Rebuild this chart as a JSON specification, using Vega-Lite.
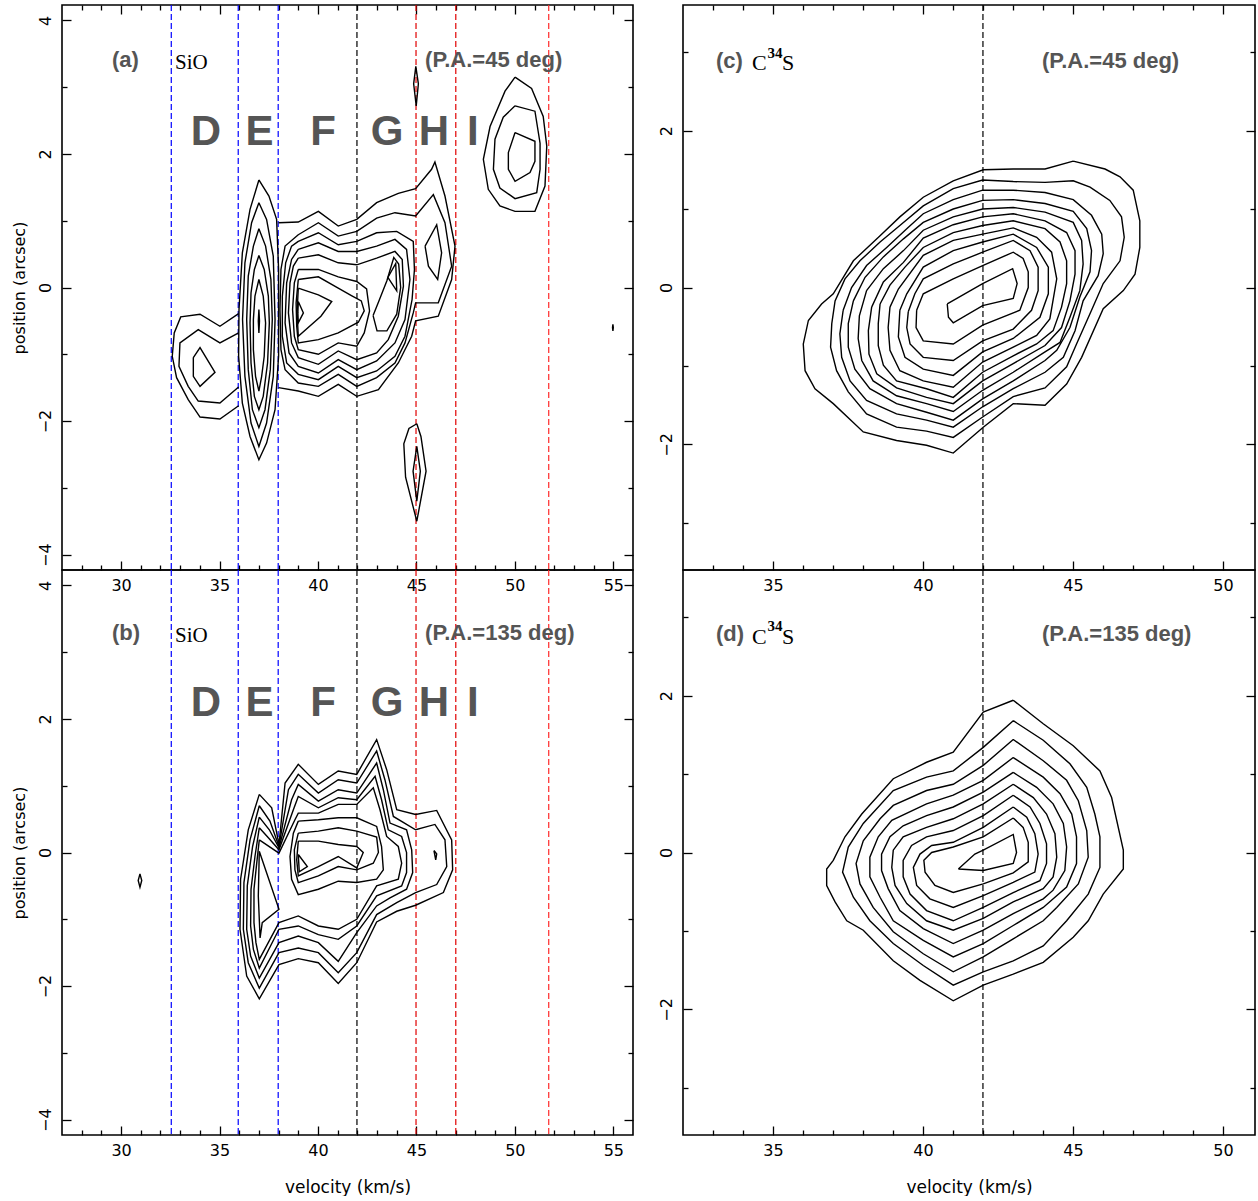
{
"$schema":"https://vega.github.io/schema/vega-lite/v6.json",
"background":"white",
"padding":{"left":10,"top":3,"right":0,"bottom":0},
"config":{
 "view":{"stroke":"#000","strokeWidth":1.6},
 "axis":{"domain":false,"grid":false,"tickColor":"#000","tickWidth":1.3,"labelColor":"#000","labelFont":"DejaVu Sans","labelFontSize":16,"titleFont":"DejaVu Sans","titleFontSize":16,"titleFontWeight":"normal","titleColor":"#000","labelOverlap":false,"labelFlush":false}
},
"datasets":{
 "rAB":[{"v":32.55,"k":"b"},{"v":35.95,"k":"b"},{"v":37.98,"k":"b"},{"v":41.98,"k":"k"},{"v":44.98,"k":"r"},{"v":47.0,"k":"r"},{"v":51.72,"k":"r2"}],
 "rCD":[{"v":42.0,"k":"k"}],
 "tA":[{"g":"lab","t":"(a)","v":29.54,"p":3.30},{"g":"lab","t":"(P.A.=45 deg)","v":45.44,"p":3.30},{"g":"ser","t":"SiO","v":32.74,"p":3.27},
  {"g":"big","t":"D","v":34.31,"p":2.14},{"g":"big","t":"E","v":37.03,"p":2.14},{"g":"big","t":"F","v":40.26,"p":2.14},{"g":"big","t":"G","v":43.51,"p":2.14},{"g":"big","t":"H","v":45.89,"p":2.14},{"g":"big","t":"I","v":47.87,"p":2.14}],
 "tB":[{"g":"lab","t":"(b)","v":29.54,"p":3.18},{"g":"lab","t":"(P.A.=135 deg)","v":45.44,"p":3.18},{"g":"ser","t":"SiO","v":32.74,"p":3.15},
  {"g":"big","t":"D","v":34.31,"p":2.05},{"g":"big","t":"E","v":37.03,"p":2.05},{"g":"big","t":"F","v":40.26,"p":2.05},{"g":"big","t":"G","v":43.51,"p":2.05},{"g":"big","t":"H","v":45.89,"p":2.05},{"g":"big","t":"I","v":47.87,"p":2.05}],
 "tC":[{"g":"lab","t":"(c)","v":33.10,"p":2.80},{"g":"lab","t":"(P.A.=45 deg)","v":43.97,"p":2.80},{"g":"ser","t":"C","v":34.30,"p":2.77},{"g":"ser","t":"S","v":35.30,"p":2.77},{"g":"sup","t":"34","v":34.82,"p":2.93}],
 "tD":[{"g":"lab","t":"(d)","v":33.10,"p":2.69},{"g":"lab","t":"(P.A.=135 deg)","v":43.97,"p":2.69},{"g":"ser","t":"C","v":34.30,"p":2.66},{"g":"ser","t":"S","v":35.30,"p":2.66},{"g":"sup","t":"34","v":34.82,"p":2.82}],
 "cA":[
  {"c":"d1","v":35.97,"p":-0.39},{"c":"d1","v":35.02,"p":-0.58},{"c":"d1","v":34.01,"p":-0.40},{"c":"d1","v":33.03,"p":-0.44},{"c":"d1","v":32.70,"p":-0.68},{"c":"d1","v":32.60,"p":-1.03},{"c":"d1","v":32.82,"p":-1.35},{"c":"d1","v":33.41,"p":-1.68},{"c":"d1","v":34.01,"p":-1.94},{"c":"d1","v":35.02,"p":-1.97},{"c":"d1","v":35.97,"p":-1.77},
  {"c":"d2","v":35.97,"p":-0.68},{"c":"d2","v":35.02,"p":-0.83},{"c":"d2","v":33.92,"p":-0.63},{"c":"d2","v":32.99,"p":-0.83},{"c":"d2","v":32.94,"p":-1.18},{"c":"d2","v":33.41,"p":-1.48},{"c":"d2","v":33.92,"p":-1.70},{"c":"d2","v":35.02,"p":-1.73},{"c":"d2","v":35.97,"p":-1.49},
  {"c":"d3","v":33.67,"p":-1.05},{"c":"d3","v":34.01,"p":-0.90},{"c":"d3","v":34.77,"p":-1.27},{"c":"d3","v":34.01,"p":-1.48},{"c":"d3","v":33.67,"p":-1.33},{"c":"d3","v":33.67,"p":-1.05},
  {"c":"e1","v":37.00,"p":1.61},{"c":"e1","v":37.51,"p":1.37},{"c":"e1","v":37.90,"p":1.02},{"c":"e1","v":38.00,"p":0.27},{"c":"e1","v":38.00,"p":-1.03},{"c":"e1","v":37.82,"p":-1.83},{"c":"e1","v":37.39,"p":-2.33},{"c":"e1","v":37.00,"p":-2.58},{"c":"e1","v":36.55,"p":-2.23},{"c":"e1","v":36.16,"p":-1.73},{"c":"e1","v":35.97,"p":-1.03},{"c":"e1","v":35.99,"p":-0.33},{"c":"e1","v":36.16,"p":0.52},{"c":"e1","v":36.55,"p":1.17},{"c":"e1","v":37.00,"p":1.61},
  {"c":"e2","v":37.00,"p":1.27},{"c":"e2","v":37.39,"p":1.02},{"c":"e2","v":37.73,"p":0.47},{"c":"e2","v":37.82,"p":-0.48},{"c":"e2","v":37.73,"p":-1.33},{"c":"e2","v":37.39,"p":-2.03},{"c":"e2","v":37.00,"p":-2.38},{"c":"e2","v":36.60,"p":-2.03},{"c":"e2","v":36.29,"p":-1.33},{"c":"e2","v":36.17,"p":-0.48},{"c":"e2","v":36.29,"p":0.37},{"c":"e2","v":36.63,"p":0.97},{"c":"e2","v":37.00,"p":1.27},
  {"c":"e3","v":37.00,"p":0.88},{"c":"e3","v":37.34,"p":0.62},{"c":"e3","v":37.61,"p":0.12},{"c":"e3","v":37.68,"p":-0.48},{"c":"e3","v":37.58,"p":-1.23},{"c":"e3","v":37.31,"p":-1.83},{"c":"e3","v":37.00,"p":-2.10},{"c":"e3","v":36.67,"p":-1.83},{"c":"e3","v":36.46,"p":-1.23},{"c":"e3","v":36.38,"p":-0.48},{"c":"e3","v":36.46,"p":0.17},{"c":"e3","v":36.72,"p":0.62},{"c":"e3","v":37.00,"p":0.88},
  {"c":"e4","v":37.00,"p":0.48},{"c":"e4","v":37.27,"p":0.27},{"c":"e4","v":37.48,"p":-0.13},{"c":"e4","v":37.53,"p":-0.53},{"c":"e4","v":37.44,"p":-1.13},{"c":"e4","v":37.22,"p":-1.63},{"c":"e4","v":37.00,"p":-1.83},{"c":"e4","v":36.77,"p":-1.63},{"c":"e4","v":36.60,"p":-1.13},{"c":"e4","v":36.55,"p":-0.53},{"c":"e4","v":36.60,"p":-0.08},{"c":"e4","v":36.77,"p":0.27},{"c":"e4","v":37.00,"p":0.48},
  {"c":"e5","v":37.00,"p":0.12},{"c":"e5","v":37.22,"p":-0.13},{"c":"e5","v":37.34,"p":-0.53},{"c":"e5","v":37.27,"p":-1.03},{"c":"e5","v":37.14,"p":-1.33},{"c":"e5","v":37.00,"p":-1.55},{"c":"e5","v":36.83,"p":-1.33},{"c":"e5","v":36.72,"p":-0.93},{"c":"e5","v":36.72,"p":-0.48},{"c":"e5","v":36.80,"p":-0.13},{"c":"e5","v":37.00,"p":0.12},
  {"c":"e6","v":37.00,"p":-0.33},{"c":"e6","v":37.03,"p":-0.50},{"c":"e6","v":37.00,"p":-0.68},{"c":"e6","v":36.97,"p":-0.50},{"c":"e6","v":37.00,"p":-0.33},
  {"c":"f1","v":38.00,"p":0.97},{"c":"f1","v":39.00,"p":0.98},{"c":"f1","v":40.02,"p":1.14},{"c":"f1","v":41.03,"p":0.92},{"c":"f1","v":41.97,"p":1.02},{"c":"f1","v":42.98,"p":1.27},{"c":"f1","v":44.08,"p":1.41},{"c":"f1","v":44.96,"p":1.48},{"c":"f1","v":45.77,"p":1.77},{"c":"f1","v":45.94,"p":1.88},{"c":"f1","v":46.45,"p":1.37},{"c":"f1","v":46.96,"p":0.62},{"c":"f1","v":46.79,"p":0.12},{"c":"f1","v":46.11,"p":-0.43},{"c":"f1","v":44.96,"p":-0.50},{"c":"f1","v":44.76,"p":-0.73},{"c":"f1","v":44.08,"p":-1.13},{"c":"f1","v":43.07,"p":-1.53},{"c":"f1","v":41.97,"p":-1.63},{"c":"f1","v":41.03,"p":-1.45},{"c":"f1","v":40.02,"p":-1.63},{"c":"f1","v":39.00,"p":-1.55},{"c":"f1","v":38.00,"p":-1.50},
  {"c":"f2","v":39.00,"p":0.79},{"c":"f2","v":40.02,"p":0.97},{"c":"f2","v":41.03,"p":0.77},{"c":"f2","v":41.97,"p":0.84},{"c":"f2","v":42.98,"p":1.04},{"c":"f2","v":43.91,"p":1.12},{"c":"f2","v":44.96,"p":1.07},{"c":"f2","v":45.86,"p":1.39},{"c":"f2","v":46.45,"p":0.97},{"c":"f2","v":46.79,"p":0.32},{"c":"f2","v":46.11,"p":-0.23},{"c":"f2","v":44.96,"p":-0.23},{"c":"f2","v":44.84,"p":-0.38},{"c":"f2","v":44.42,"p":-0.83},{"c":"f2","v":43.91,"p":-1.13},{"c":"f2","v":42.98,"p":-1.35},{"c":"f2","v":41.97,"p":-1.48},{"c":"f2","v":41.03,"p":-1.30},{"c":"f2","v":40.02,"p":-1.48},{"c":"f2","v":39.00,"p":-1.43},{"c":"f2","v":38.33,"p":-1.23},{"c":"f2","v":38.12,"p":-0.93},{"c":"f2","v":38.07,"p":-0.33},{"c":"f2","v":38.12,"p":0.27},{"c":"f2","v":38.33,"p":0.62},{"c":"f2","v":39.00,"p":0.79},
  {"c":"f3","v":39.00,"p":0.69},{"c":"f3","v":40.02,"p":0.82},{"c":"f3","v":41.03,"p":0.64},{"c":"f3","v":41.97,"p":0.69},{"c":"f3","v":42.98,"p":0.82},{"c":"f3","v":44.00,"p":0.84},{"c":"f3","v":44.84,"p":0.69},{"c":"f3","v":44.90,"p":0.27},{"c":"f3","v":44.78,"p":-0.18},{"c":"f3","v":44.42,"p":-0.73},{"c":"f3","v":43.91,"p":-1.03},{"c":"f3","v":42.98,"p":-1.25},{"c":"f3","v":41.97,"p":-1.35},{"c":"f3","v":41.03,"p":-1.18},{"c":"f3","v":40.02,"p":-1.38},{"c":"f3","v":39.00,"p":-1.30},{"c":"f3","v":38.41,"p":-1.13},{"c":"f3","v":38.19,"p":-0.73},{"c":"f3","v":38.19,"p":-0.13},{"c":"f3","v":38.36,"p":0.37},{"c":"f3","v":38.66,"p":0.62},{"c":"f3","v":39.00,"p":0.69},
  {"c":"f4","v":39.00,"p":0.57},{"c":"f4","v":40.02,"p":0.67},{"c":"f4","v":41.03,"p":0.54},{"c":"f4","v":41.97,"p":0.54},{"c":"f4","v":42.98,"p":0.62},{"c":"f4","v":43.91,"p":0.72},{"c":"f4","v":44.50,"p":0.57},{"c":"f4","v":44.67,"p":0.12},{"c":"f4","v":44.42,"p":-0.48},{"c":"f4","v":43.91,"p":-0.83},{"c":"f4","v":42.98,"p":-1.10},{"c":"f4","v":41.97,"p":-1.23},{"c":"f4","v":41.03,"p":-1.08},{"c":"f4","v":40.02,"p":-1.28},{"c":"f4","v":39.00,"p":-1.18},{"c":"f4","v":38.53,"p":-0.98},{"c":"f4","v":38.33,"p":-0.53},{"c":"f4","v":38.41,"p":0.07},{"c":"f4","v":38.66,"p":0.42},{"c":"f4","v":39.00,"p":0.57},
  {"c":"f5","v":39.00,"p":0.44},{"c":"f5","v":40.02,"p":0.49},{"c":"f5","v":41.03,"p":0.37},{"c":"f5","v":41.97,"p":0.34},{"c":"f5","v":42.98,"p":0.44},{"c":"f5","v":43.91,"p":0.54},{"c":"f5","v":44.28,"p":0.42},{"c":"f5","v":44.34,"p":0.02},{"c":"f5","v":44.08,"p":-0.43},{"c":"f5","v":43.57,"p":-0.78},{"c":"f5","v":42.98,"p":-0.98},{"c":"f5","v":41.97,"p":-1.08},{"c":"f5","v":41.03,"p":-0.95},{"c":"f5","v":40.02,"p":-1.15},{"c":"f5","v":39.00,"p":-1.05},{"c":"f5","v":38.66,"p":-0.83},{"c":"f5","v":38.50,"p":-0.38},{"c":"f5","v":38.58,"p":0.07},{"c":"f5","v":38.75,"p":0.32},{"c":"f5","v":39.00,"p":0.44},
  {"c":"f6","v":39.00,"p":0.27},{"c":"f6","v":40.02,"p":0.27},{"c":"f6","v":41.03,"p":0.16},{"c":"f6","v":41.97,"p":0.09},{"c":"f6","v":42.47,"p":-0.02},{"c":"f6","v":42.62,"p":-0.35},{"c":"f6","v":42.35,"p":-0.68},{"c":"f6","v":41.97,"p":-0.88},{"c":"f6","v":41.03,"p":-0.83},{"c":"f6","v":40.02,"p":-1.00},{"c":"f6","v":39.00,"p":-0.93},{"c":"f6","v":38.80,"p":-0.73},{"c":"f6","v":38.71,"p":-0.33},{"c":"f6","v":38.80,"p":0.07},{"c":"f6","v":39.00,"p":0.27},
  {"c":"f7","v":39.00,"p":0.12},{"c":"f7","v":40.02,"p":0.16},{"c":"f7","v":41.03,"p":-0.01},{"c":"f7","v":41.70,"p":-0.12},{"c":"f7","v":42.20,"p":-0.20},{"c":"f7","v":42.35,"p":-0.35},{"c":"f7","v":42.05,"p":-0.52},{"c":"f7","v":41.03,"p":-0.68},{"c":"f7","v":40.02,"p":-0.78},{"c":"f7","v":39.00,"p":-0.83},{"c":"f7","v":38.92,"p":-0.58},{"c":"f7","v":38.89,"p":-0.23},{"c":"f7","v":39.00,"p":0.12},
  {"c":"f8","v":39.00,"p":-0.01},{"c":"f8","v":40.02,"p":-0.11},{"c":"f8","v":40.70,"p":-0.21},{"c":"f8","v":40.15,"p":-0.43},{"c":"f8","v":39.00,"p":-0.73},{"c":"f8","v":38.94,"p":-0.38},{"c":"f8","v":39.00,"p":-0.01},
  {"c":"f9","v":39.00,"p":-0.21},{"c":"f9","v":39.26,"p":-0.38},{"c":"f9","v":39.00,"p":-0.53},{"c":"f9","v":38.98,"p":-0.38},{"c":"f9","v":39.00,"p":-0.21},
  {"c":"g6","v":42.80,"p":-0.42},{"c":"g6","v":43.10,"p":-0.20},{"c":"g6","v":43.50,"p":0.10},{"c":"g6","v":43.85,"p":0.45},{"c":"g6","v":44.10,"p":0.35},{"c":"g6","v":44.20,"p":0.00},{"c":"g6","v":44.00,"p":-0.40},{"c":"g6","v":43.50,"p":-0.65},{"c":"g6","v":43.00,"p":-0.65},{"c":"g6","v":42.80,"p":-0.42},
  {"c":"g7","v":43.55,"p":0.15},{"c":"g7","v":43.95,"p":0.36},{"c":"g7","v":44.00,"p":-0.05},{"c":"g7","v":43.55,"p":0.15},
  {"c":"h3","v":45.44,"p":0.62},{"c":"h3","v":46.03,"p":0.94},{"c":"h3","v":46.28,"p":0.52},{"c":"h3","v":46.08,"p":0.12},{"c":"h3","v":45.61,"p":0.32},{"c":"h3","v":45.44,"p":0.62},
  {"c":"i1","v":50.01,"p":3.15},{"c":"i1","v":50.85,"p":2.98},{"c":"i1","v":51.44,"p":2.56},{"c":"i1","v":51.62,"p":2.12},{"c":"i1","v":51.53,"p":1.52},{"c":"i1","v":51.02,"p":1.14},{"c":"i1","v":50.01,"p":1.14},{"c":"i1","v":49.24,"p":1.22},{"c":"i1","v":48.65,"p":1.47},{"c":"i1","v":48.40,"p":1.92},{"c":"i1","v":48.74,"p":2.41},{"c":"i1","v":49.50,"p":2.94},{"c":"i1","v":50.01,"p":3.15},
  {"c":"i2","v":50.01,"p":2.72},{"c":"i2","v":51.02,"p":2.64},{"c":"i2","v":51.28,"p":2.16},{"c":"i2","v":51.28,"p":1.77},{"c":"i2","v":51.11,"p":1.42},{"c":"i2","v":50.01,"p":1.33},{"c":"i2","v":49.24,"p":1.49},{"c":"i2","v":48.91,"p":1.77},{"c":"i2","v":48.99,"p":2.22},{"c":"i2","v":49.41,"p":2.55},{"c":"i2","v":50.01,"p":2.72},
  {"c":"i3","v":50.01,"p":2.32},{"c":"i3","v":51.02,"p":2.19},{"c":"i3","v":51.02,"p":1.89},{"c":"i3","v":50.77,"p":1.72},{"c":"i3","v":50.01,"p":1.59},{"c":"i3","v":49.67,"p":1.77},{"c":"i3","v":49.67,"p":2.02},{"c":"i3","v":50.01,"p":2.32},
  {"c":"u1","v":44.97,"p":3.31},{"c":"u1","v":45.10,"p":3.05},{"c":"u1","v":44.99,"p":2.72},{"c":"u1","v":44.86,"p":3.05},{"c":"u1","v":44.97,"p":3.31},
  {"c":"l1","v":45.02,"p":-2.04},{"c":"l1","v":45.23,"p":-2.23},{"c":"l1","v":45.49,"p":-2.75},{"c":"l1","v":45.02,"p":-3.50},{"c":"l1","v":44.45,"p":-2.84},{"c":"l1","v":44.36,"p":-2.34},{"c":"l1","v":44.62,"p":-2.11},{"c":"l1","v":45.02,"p":-2.04},
  {"c":"l2","v":45.02,"p":-2.38},{"c":"l2","v":45.20,"p":-2.75},{"c":"l2","v":45.02,"p":-3.20},{"c":"l2","v":44.83,"p":-2.75},{"c":"l2","v":45.02,"p":-2.38},
  {"c":"t1","v":54.98,"p":-0.55},{"c":"t1","v":55.00,"p":-0.60},{"c":"t1","v":54.98,"p":-0.65},{"c":"t1","v":54.96,"p":-0.60},{"c":"t1","v":54.98,"p":-0.55}
 ],
 "cB":[
  {"c":"b1","v":37.02,"p":0.87},{"c":"b1","v":37.65,"p":0.67},{"c":"b1","v":38.02,"p":0.12},{"c":"b1","v":38.33,"p":1.04},{"c":"b1","v":39.00,"p":1.32},{"c":"b1","v":40.02,"p":1.02},{"c":"b1","v":41.03,"p":1.22},{"c":"b1","v":41.97,"p":1.17},{"c":"b1","v":42.98,"p":1.69},{"c":"b1","v":43.49,"p":1.24},{"c":"b1","v":44.00,"p":0.64},{"c":"b1","v":44.96,"p":0.57},{"c":"b1","v":46.03,"p":0.63},{"c":"b1","v":46.79,"p":0.19},{"c":"b1","v":46.84,"p":-0.26},{"c":"b1","v":46.37,"p":-0.60},{"c":"b1","v":44.96,"p":-0.79},{"c":"b1","v":44.00,"p":-0.88},{"c":"b1","v":42.98,"p":-1.04},{"c":"b1","v":41.97,"p":-1.65},{"c":"b1","v":41.03,"p":-1.96},{"c":"b1","v":40.02,"p":-1.65},{"c":"b1","v":39.00,"p":-1.59},{"c":"b1","v":38.02,"p":-1.68},{"c":"b1","v":37.02,"p":-2.19},{"c":"b1","v":36.38,"p":-1.85},{"c":"b1","v":36.04,"p":-1.15},{"c":"b1","v":36.07,"p":-0.40},{"c":"b1","v":36.46,"p":0.34},{"c":"b1","v":37.02,"p":0.87},
  {"c":"b2","v":37.02,"p":0.70},{"c":"b2","v":37.56,"p":0.47},{"c":"b2","v":38.02,"p":0.09},{"c":"b2","v":38.50,"p":0.94},{"c":"b2","v":39.00,"p":1.17},{"c":"b2","v":40.02,"p":0.89},{"c":"b2","v":41.03,"p":1.09},{"c":"b2","v":41.97,"p":1.04},{"c":"b2","v":42.98,"p":1.52},{"c":"b2","v":43.40,"p":1.09},{"c":"b2","v":43.83,"p":0.54},{"c":"b2","v":44.96,"p":0.34},{"c":"b2","v":45.94,"p":0.42},{"c":"b2","v":46.45,"p":0.19},{"c":"b2","v":46.54,"p":-0.21},{"c":"b2","v":46.03,"p":-0.48},{"c":"b2","v":44.96,"p":-0.60},{"c":"b2","v":44.00,"p":-0.75},{"c":"b2","v":42.98,"p":-0.93},{"c":"b2","v":41.97,"p":-1.50},{"c":"b2","v":41.03,"p":-1.80},{"c":"b2","v":40.02,"p":-1.50},{"c":"b2","v":39.00,"p":-1.43},{"c":"b2","v":38.02,"p":-1.50},{"c":"b2","v":37.02,"p":-2.03},{"c":"b2","v":36.46,"p":-1.65},{"c":"b2","v":36.21,"p":-1.15},{"c":"b2","v":36.24,"p":-0.45},{"c":"b2","v":36.55,"p":0.19},{"c":"b2","v":37.02,"p":0.70},
  {"c":"b3","v":37.02,"p":0.53},{"c":"b3","v":37.53,"p":0.34},{"c":"b3","v":38.02,"p":0.07},{"c":"b3","v":38.66,"p":0.79},{"c":"b3","v":39.00,"p":1.02},{"c":"b3","v":40.02,"p":0.77},{"c":"b3","v":41.03,"p":0.94},{"c":"b3","v":41.97,"p":0.89},{"c":"b3","v":42.98,"p":1.34},{"c":"b3","v":43.32,"p":0.94},{"c":"b3","v":43.66,"p":0.44},{"c":"b3","v":44.50,"p":0.34},{"c":"b3","v":44.76,"p":0.04},{"c":"b3","v":44.81,"p":-0.30},{"c":"b3","v":44.50,"p":-0.55},{"c":"b3","v":43.66,"p":-0.68},{"c":"b3","v":42.98,"p":-0.80},{"c":"b3","v":41.97,"p":-1.20},{"c":"b3","v":41.03,"p":-1.63},{"c":"b3","v":40.02,"p":-1.35},{"c":"b3","v":39.00,"p":-1.25},{"c":"b3","v":38.02,"p":-1.35},{"c":"b3","v":37.02,"p":-1.88},{"c":"b3","v":36.58,"p":-1.55},{"c":"b3","v":36.38,"p":-1.15},{"c":"b3","v":36.41,"p":-0.50},{"c":"b3","v":36.68,"p":0.09},{"c":"b3","v":37.02,"p":0.53},
  {"c":"b4","v":37.02,"p":0.37},{"c":"b4","v":37.48,"p":0.22},{"c":"b4","v":38.02,"p":0.04},{"c":"b4","v":38.75,"p":0.64},{"c":"b4","v":39.00,"p":0.84},{"c":"b4","v":40.02,"p":0.67},{"c":"b4","v":41.03,"p":0.82},{"c":"b4","v":41.97,"p":0.79},{"c":"b4","v":42.90,"p":1.14},{"c":"b4","v":43.23,"p":0.79},{"c":"b4","v":43.57,"p":0.34},{"c":"b4","v":44.25,"p":0.24},{"c":"b4","v":44.50,"p":0.00},{"c":"b4","v":44.50,"p":-0.30},{"c":"b4","v":44.25,"p":-0.50},{"c":"b4","v":42.98,"p":-0.65},{"c":"b4","v":41.97,"p":-1.10},{"c":"b4","v":41.03,"p":-1.30},{"c":"b4","v":40.02,"p":-1.23},{"c":"b4","v":39.00,"p":-1.10},{"c":"b4","v":38.02,"p":-1.15},{"c":"b4","v":37.02,"p":-1.73},{"c":"b4","v":36.72,"p":-1.45},{"c":"b4","v":36.58,"p":-1.10},{"c":"b4","v":36.60,"p":-0.55},{"c":"b4","v":36.80,"p":-0.06},{"c":"b4","v":37.02,"p":0.37},
  {"c":"b5","v":37.02,"p":0.19},{"c":"b5","v":38.02,"p":-0.01},{"c":"b5","v":38.83,"p":0.49},{"c":"b5","v":39.00,"p":0.59},{"c":"b5","v":40.02,"p":0.59},{"c":"b5","v":41.03,"p":0.72},{"c":"b5","v":41.97,"p":0.72},{"c":"b5","v":42.81,"p":0.97},{"c":"b5","v":43.15,"p":0.64},{"c":"b5","v":43.49,"p":0.24},{"c":"b5","v":44.08,"p":0.09},{"c":"b5","v":44.25,"p":-0.16},{"c":"b5","v":44.08,"p":-0.40},{"c":"b5","v":42.98,"p":-0.50},{"c":"b5","v":41.97,"p":-1.00},{"c":"b5","v":41.03,"p":-1.15},{"c":"b5","v":40.02,"p":-1.10},{"c":"b5","v":39.00,"p":-0.95},{"c":"b5","v":38.02,"p":-1.05},{"c":"b5","v":37.02,"p":-1.60},{"c":"b5","v":36.85,"p":-1.35},{"c":"b5","v":36.75,"p":-1.05},{"c":"b5","v":36.75,"p":-0.55},{"c":"b5","v":36.89,"p":-0.16},{"c":"b5","v":37.02,"p":0.19},
  {"c":"b6","v":39.00,"p":0.47},{"c":"b6","v":40.02,"p":0.49},{"c":"b6","v":41.03,"p":0.52},{"c":"b6","v":41.97,"p":0.52},{"c":"b6","v":42.98,"p":0.39},{"c":"b6","v":43.23,"p":0.09},{"c":"b6","v":43.32,"p":-0.26},{"c":"b6","v":42.98,"p":-0.40},{"c":"b6","v":41.97,"p":-0.45},{"c":"b6","v":41.03,"p":-0.43},{"c":"b6","v":40.02,"p":-0.55},{"c":"b6","v":39.00,"p":-0.63},{"c":"b6","v":38.66,"p":-0.40},{"c":"b6","v":38.58,"p":-0.06},{"c":"b6","v":38.75,"p":0.29},{"c":"b6","v":39.00,"p":0.47},
  {"c":"b7","v":39.00,"p":0.29},{"c":"b7","v":40.02,"p":0.32},{"c":"b7","v":41.03,"p":0.37},{"c":"b7","v":41.97,"p":0.32},{"c":"b7","v":42.98,"p":0.23},{"c":"b7","v":43.07,"p":0.00},{"c":"b7","v":42.81,"p":-0.16},{"c":"b7","v":41.97,"p":-0.26},{"c":"b7","v":41.03,"p":-0.21},{"c":"b7","v":40.02,"p":-0.35},{"c":"b7","v":39.00,"p":-0.45},{"c":"b7","v":38.83,"p":-0.26},{"c":"b7","v":38.80,"p":0.04},{"c":"b7","v":39.00,"p":0.29},
  {"c":"b8","v":39.00,"p":0.17},{"c":"b8","v":40.02,"p":0.17},{"c":"b8","v":41.03,"p":0.12},{"c":"b8","v":41.97,"p":0.09},{"c":"b8","v":42.30,"p":0.00},{"c":"b8","v":41.97,"p":-0.23},{"c":"b8","v":41.03,"p":-0.06},{"c":"b8","v":40.02,"p":-0.21},{"c":"b8","v":39.00,"p":-0.35},{"c":"b8","v":38.92,"p":-0.11},{"c":"b8","v":39.00,"p":0.17},
  {"c":"b9","v":39.00,"p":-0.03},{"c":"b9","v":39.46,"p":-0.21},{"c":"b9","v":39.05,"p":-0.29},{"c":"b9","v":39.00,"p":-0.03},
  {"c":"b10","v":45.89,"p":0.03},{"c":"b10","v":46.03,"p":-0.02},{"c":"b10","v":45.98,"p":-0.11},{"c":"b10","v":45.89,"p":0.03},
  {"c":"b11","v":37.02,"p":0.02},{"c":"b11","v":38.02,"p":-0.85},{"c":"b11","v":37.17,"p":-1.05},{"c":"b11","v":37.06,"p":-1.28},{"c":"b11","v":36.97,"p":-0.65},{"c":"b11","v":37.02,"p":0.02},
  {"c":"b12","v":30.96,"p":-0.32},{"c":"b12","v":31.05,"p":-0.42},{"c":"b12","v":30.96,"p":-0.52},{"c":"b12","v":30.87,"p":-0.42},{"c":"b12","v":30.96,"p":-0.32}
 ],
 "cC":[
  {"c":"k0","v":45.01,"p":1.61},{"c":"k0","v":46.07,"p":1.51},{"c":"k0","v":46.57,"p":1.41},{"c":"k0","v":47.01,"p":1.24},{"c":"k0","v":47.23,"p":0.85},{"c":"k0","v":47.23,"p":0.51},{"c":"k0","v":47.07,"p":0.17},{"c":"k0","v":46.68,"p":-0.04},{"c":"k0","v":46.01,"p":-0.27},{"c":"k0","v":45.29,"p":-0.89},{"c":"k0","v":44.79,"p":-1.23},{"c":"k0","v":44.07,"p":-1.50},{"c":"k0","v":43.01,"p":-1.48},{"c":"k0","v":42.01,"p":-1.78},{"c":"k0","v":41.01,"p":-2.11},{"c":"k0","v":40.12,"p":-2.01},{"c":"k0","v":39.12,"p":-1.95},{"c":"k0","v":38.01,"p":-1.84},{"c":"k0","v":37.01,"p":-1.48},{"c":"k0","v":36.40,"p":-1.29},{"c":"k0","v":36.07,"p":-1.06},{"c":"k0","v":36.01,"p":-0.72},{"c":"k0","v":36.18,"p":-0.42},{"c":"k0","v":36.62,"p":-0.21},{"c":"k0","v":37.01,"p":-0.08},{"c":"k0","v":37.68,"p":0.34},{"c":"k0","v":38.57,"p":0.66},{"c":"k0","v":39.23,"p":0.90},{"c":"k0","v":40.01,"p":1.15},{"c":"k0","v":41.01,"p":1.36},{"c":"k0","v":42.01,"p":1.50},{"c":"k0","v":43.01,"p":1.51},{"c":"k0","v":44.07,"p":1.51},{"c":"k0","v":45.01,"p":1.61},
  {"c":"k1","v":36.96,"p":-0.46},{"c":"k1","v":37.07,"p":-0.17},{"c":"k1","v":37.40,"p":0.11},{"c":"k1","v":37.90,"p":0.34},{"c":"k1","v":38.57,"p":0.58},{"c":"k1","v":39.23,"p":0.79},{"c":"k1","v":40.01,"p":1.04},{"c":"k1","v":41.01,"p":1.26},{"c":"k1","v":41.99,"p":1.37},{"c":"k1","v":43.01,"p":1.35},{"c":"k1","v":44.07,"p":1.34},{"c":"k1","v":45.01,"p":1.36},{"c":"k1","v":45.57,"p":1.28},{"c":"k1","v":46.23,"p":1.11},{"c":"k1","v":46.62,"p":0.90},{"c":"k1","v":46.71,"p":0.64},{"c":"k1","v":46.57,"p":0.34},{"c":"k1","v":46.01,"p":0.05},{"c":"k1","v":45.62,"p":-0.29},{"c":"k1","v":45.12,"p":-0.72},{"c":"k1","v":44.79,"p":-1.01},{"c":"k1","v":44.07,"p":-1.28},{"c":"k1","v":43.01,"p":-1.39},{"c":"k1","v":41.99,"p":-1.65},{"c":"k1","v":41.01,"p":-1.91},{"c":"k1","v":40.12,"p":-1.83},{"c":"k1","v":39.12,"p":-1.78},{"c":"k1","v":38.12,"p":-1.61},{"c":"k1","v":37.51,"p":-1.33},{"c":"k1","v":37.12,"p":-1.06},{"c":"k1","v":36.92,"p":-0.76},{"c":"k1","v":36.96,"p":-0.46},
  {"c":"k2","v":37.34,"p":-0.29},{"c":"k2","v":37.62,"p":0.00},{"c":"k2","v":38.12,"p":0.28},{"c":"k2","v":38.79,"p":0.51},{"c":"k2","v":39.46,"p":0.75},{"c":"k2","v":40.01,"p":0.94},{"c":"k2","v":41.01,"p":1.12},{"c":"k2","v":41.99,"p":1.24},{"c":"k2","v":43.01,"p":1.24},{"c":"k2","v":44.07,"p":1.21},{"c":"k2","v":45.01,"p":1.12},{"c":"k2","v":45.62,"p":0.92},{"c":"k2","v":45.96,"p":0.68},{"c":"k2","v":46.01,"p":0.43},{"c":"k2","v":45.84,"p":0.15},{"c":"k2","v":45.34,"p":-0.17},{"c":"k2","v":45.07,"p":-0.55},{"c":"k2","v":44.68,"p":-0.89},{"c":"k2","v":44.07,"p":-1.08},{"c":"k2","v":43.01,"p":-1.29},{"c":"k2","v":41.99,"p":-1.52},{"c":"k2","v":41.01,"p":-1.78},{"c":"k2","v":40.12,"p":-1.69},{"c":"k2","v":39.12,"p":-1.61},{"c":"k2","v":38.12,"p":-1.44},{"c":"k2","v":37.57,"p":-1.19},{"c":"k2","v":37.29,"p":-0.89},{"c":"k2","v":37.23,"p":-0.59},{"c":"k2","v":37.34,"p":-0.29},
  {"c":"k3","v":37.68,"p":-0.17},{"c":"k3","v":38.07,"p":0.13},{"c":"k3","v":38.68,"p":0.39},{"c":"k3","v":39.35,"p":0.62},{"c":"k3","v":40.01,"p":0.83},{"c":"k3","v":41.01,"p":1.00},{"c":"k3","v":41.99,"p":1.11},{"c":"k3","v":43.01,"p":1.12},{"c":"k3","v":44.07,"p":1.07},{"c":"k3","v":45.01,"p":0.97},{"c":"k3","v":45.46,"p":0.75},{"c":"k3","v":45.62,"p":0.47},{"c":"k3","v":45.57,"p":0.20},{"c":"k3","v":45.23,"p":-0.12},{"c":"k3","v":44.90,"p":-0.51},{"c":"k3","v":44.46,"p":-0.80},{"c":"k3","v":44.07,"p":-0.93},{"c":"k3","v":43.01,"p":-1.19},{"c":"k3","v":41.99,"p":-1.42},{"c":"k3","v":41.01,"p":-1.69},{"c":"k3","v":40.12,"p":-1.59},{"c":"k3","v":39.12,"p":-1.48},{"c":"k3","v":38.23,"p":-1.29},{"c":"k3","v":37.73,"p":-1.04},{"c":"k3","v":37.51,"p":-0.76},{"c":"k3","v":37.51,"p":-0.46},{"c":"k3","v":37.68,"p":-0.17},
  {"c":"k4","v":38.12,"p":-0.04},{"c":"k4","v":38.68,"p":0.24},{"c":"k4","v":39.35,"p":0.47},{"c":"k4","v":40.01,"p":0.73},{"c":"k4","v":41.01,"p":0.90},{"c":"k4","v":41.99,"p":1.00},{"c":"k4","v":43.01,"p":1.02},{"c":"k4","v":44.07,"p":0.96},{"c":"k4","v":45.01,"p":0.83},{"c":"k4","v":45.29,"p":0.60},{"c":"k4","v":45.34,"p":0.30},{"c":"k4","v":45.23,"p":-0.04},{"c":"k4","v":44.90,"p":-0.38},{"c":"k4","v":44.57,"p":-0.70},{"c":"k4","v":44.07,"p":-0.82},{"c":"k4","v":43.01,"p":-1.08},{"c":"k4","v":41.99,"p":-1.31},{"c":"k4","v":41.01,"p":-1.58},{"c":"k4","v":40.12,"p":-1.48},{"c":"k4","v":39.12,"p":-1.38},{"c":"k4","v":38.34,"p":-1.19},{"c":"k4","v":37.96,"p":-0.93},{"c":"k4","v":37.84,"p":-0.65},{"c":"k4","v":37.88,"p":-0.36},{"c":"k4","v":38.12,"p":-0.04},
  {"c":"k5","v":38.29,"p":-0.25},{"c":"k5","v":38.68,"p":0.07},{"c":"k5","v":39.35,"p":0.32},{"c":"k5","v":40.01,"p":0.63},{"c":"k5","v":41.01,"p":0.80},{"c":"k5","v":41.99,"p":0.90},{"c":"k5","v":43.01,"p":0.94},{"c":"k5","v":44.07,"p":0.85},{"c":"k5","v":44.79,"p":0.70},{"c":"k5","v":45.07,"p":0.47},{"c":"k5","v":45.07,"p":0.17},{"c":"k5","v":44.90,"p":-0.17},{"c":"k5","v":44.62,"p":-0.51},{"c":"k5","v":44.07,"p":-0.74},{"c":"k5","v":43.01,"p":-0.97},{"c":"k5","v":41.99,"p":-1.19},{"c":"k5","v":41.01,"p":-1.48},{"c":"k5","v":40.12,"p":-1.40},{"c":"k5","v":39.12,"p":-1.28},{"c":"k5","v":38.46,"p":-1.10},{"c":"k5","v":38.20,"p":-0.85},{"c":"k5","v":38.18,"p":-0.55},{"c":"k5","v":38.29,"p":-0.25},
  {"c":"k6","v":38.57,"p":-0.21},{"c":"k6","v":38.90,"p":0.03},{"c":"k6","v":39.40,"p":0.26},{"c":"k6","v":40.01,"p":0.51},{"c":"k6","v":41.01,"p":0.70},{"c":"k6","v":41.99,"p":0.79},{"c":"k6","v":43.01,"p":0.85},{"c":"k6","v":44.07,"p":0.75},{"c":"k6","v":44.57,"p":0.58},{"c":"k6","v":44.79,"p":0.34},{"c":"k6","v":44.79,"p":0.05},{"c":"k6","v":44.62,"p":-0.25},{"c":"k6","v":44.34,"p":-0.55},{"c":"k6","v":43.79,"p":-0.72},{"c":"k6","v":43.01,"p":-0.87},{"c":"k6","v":41.99,"p":-1.08},{"c":"k6","v":41.01,"p":-1.40},{"c":"k6","v":40.12,"p":-1.29},{"c":"k6","v":39.12,"p":-1.19},{"c":"k6","v":38.68,"p":-0.99},{"c":"k6","v":38.51,"p":-0.74},{"c":"k6","v":38.51,"p":-0.46},{"c":"k6","v":38.57,"p":-0.21},
  {"c":"k7","v":38.90,"p":-0.25},{"c":"k7","v":39.18,"p":-0.02},{"c":"k7","v":40.01,"p":0.41},{"c":"k7","v":41.01,"p":0.60},{"c":"k7","v":41.99,"p":0.68},{"c":"k7","v":43.01,"p":0.76},{"c":"k7","v":43.79,"p":0.64},{"c":"k7","v":44.29,"p":0.45},{"c":"k7","v":44.46,"p":0.11},{"c":"k7","v":44.23,"p":-0.40},{"c":"k7","v":43.79,"p":-0.61},{"c":"k7","v":43.01,"p":-0.76},{"c":"k7","v":41.99,"p":-0.95},{"c":"k7","v":41.01,"p":-1.27},{"c":"k7","v":40.01,"p":-1.19},{"c":"k7","v":39.23,"p":-1.06},{"c":"k7","v":38.90,"p":-0.80},{"c":"k7","v":38.84,"p":-0.51},{"c":"k7","v":38.90,"p":-0.25},
  {"c":"k8","v":39.23,"p":-0.29},{"c":"k8","v":39.46,"p":-0.08},{"c":"k8","v":40.01,"p":0.26},{"c":"k8","v":41.01,"p":0.47},{"c":"k8","v":41.99,"p":0.58},{"c":"k8","v":43.01,"p":0.68},{"c":"k8","v":43.79,"p":0.51},{"c":"k8","v":44.18,"p":0.26},{"c":"k8","v":44.18,"p":-0.08},{"c":"k8","v":43.90,"p":-0.38},{"c":"k8","v":43.01,"p":-0.65},{"c":"k8","v":41.99,"p":-0.82},{"c":"k8","v":41.01,"p":-1.12},{"c":"k8","v":40.01,"p":-1.04},{"c":"k8","v":39.40,"p":-0.89},{"c":"k8","v":39.18,"p":-0.63},{"c":"k8","v":39.23,"p":-0.29},
  {"c":"k9","v":39.51,"p":-0.31},{"c":"k9","v":39.73,"p":-0.08},{"c":"k9","v":40.01,"p":0.11},{"c":"k9","v":41.01,"p":0.30},{"c":"k9","v":41.99,"p":0.45},{"c":"k9","v":43.01,"p":0.60},{"c":"k9","v":43.57,"p":0.47},{"c":"k9","v":43.84,"p":0.26},{"c":"k9","v":43.84,"p":-0.04},{"c":"k9","v":43.62,"p":-0.29},{"c":"k9","v":43.01,"p":-0.53},{"c":"k9","v":41.99,"p":-0.68},{"c":"k9","v":41.01,"p":-0.93},{"c":"k9","v":40.01,"p":-0.89},{"c":"k9","v":39.57,"p":-0.72},{"c":"k9","v":39.46,"p":-0.51},{"c":"k9","v":39.51,"p":-0.31},
  {"c":"k10","v":39.79,"p":-0.29},{"c":"k10","v":40.01,"p":-0.08},{"c":"k10","v":41.01,"p":0.11},{"c":"k10","v":41.99,"p":0.28},{"c":"k10","v":43.01,"p":0.45},{"c":"k10","v":43.34,"p":0.37},{"c":"k10","v":43.51,"p":0.20},{"c":"k10","v":43.51,"p":0.00},{"c":"k10","v":43.23,"p":-0.29},{"c":"k10","v":41.99,"p":-0.48},{"c":"k10","v":41.01,"p":-0.72},{"c":"k10","v":40.01,"p":-0.68},{"c":"k10","v":39.77,"p":-0.51},{"c":"k10","v":39.79,"p":-0.29},
  {"c":"k11","v":40.81,"p":-0.21},{"c":"k11","v":41.99,"p":0.05},{"c":"k11","v":42.99,"p":0.24},{"c":"k11","v":43.14,"p":0.05},{"c":"k11","v":43.01,"p":-0.14},{"c":"k11","v":41.99,"p":-0.23},{"c":"k11","v":41.01,"p":-0.45},{"c":"k11","v":40.85,"p":-0.38},{"c":"k11","v":40.81,"p":-0.21}
 ],
 "cD":[
  {"c":"m0","v":43.01,"p":1.94},{"c":"m0","v":44.01,"p":1.64},{"c":"m0","v":45.01,"p":1.36},{"c":"m0","v":45.90,"p":1.04},{"c":"m0","v":46.29,"p":0.70},{"c":"m0","v":46.68,"p":0.03},{"c":"m0","v":46.68,"p":-0.21},{"c":"m0","v":46.01,"p":-0.53},{"c":"m0","v":45.51,"p":-0.87},{"c":"m0","v":45.01,"p":-1.08},{"c":"m0","v":44.01,"p":-1.40},{"c":"m0","v":43.01,"p":-1.55},{"c":"m0","v":42.01,"p":-1.69},{"c":"m0","v":41.01,"p":-1.89},{"c":"m0","v":39.90,"p":-1.63},{"c":"m0","v":39.01,"p":-1.38},{"c":"m0","v":38.01,"p":-0.99},{"c":"m0","v":37.46,"p":-0.87},{"c":"m0","v":37.07,"p":-0.63},{"c":"m0","v":36.79,"p":-0.42},{"c":"m0","v":36.79,"p":-0.21},{"c":"m0","v":37.01,"p":-0.10},{"c":"m0","v":37.40,"p":0.20},{"c":"m0","v":37.96,"p":0.49},{"c":"m0","v":39.01,"p":0.94},{"c":"m0","v":40.12,"p":1.15},{"c":"m0","v":41.01,"p":1.28},{"c":"m0","v":42.01,"p":1.79},{"c":"m0","v":43.01,"p":1.94},
  {"c":"m1","v":43.01,"p":1.68},{"c":"m1","v":44.01,"p":1.43},{"c":"m1","v":44.90,"p":1.13},{"c":"m1","v":45.46,"p":0.83},{"c":"m1","v":45.73,"p":0.49},{"c":"m1","v":45.90,"p":0.20},{"c":"m1","v":45.90,"p":-0.19},{"c":"m1","v":45.51,"p":-0.53},{"c":"m1","v":44.79,"p":-0.87},{"c":"m1","v":44.01,"p":-1.19},{"c":"m1","v":43.01,"p":-1.38},{"c":"m1","v":42.01,"p":-1.52},{"c":"m1","v":41.01,"p":-1.69},{"c":"m1","v":40.01,"p":-1.44},{"c":"m1","v":39.01,"p":-1.16},{"c":"m1","v":38.23,"p":-0.87},{"c":"m1","v":37.68,"p":-0.57},{"c":"m1","v":37.32,"p":-0.25},{"c":"m1","v":37.51,"p":0.07},{"c":"m1","v":38.01,"p":0.37},{"c":"m1","v":39.01,"p":0.79},{"c":"m1","v":40.12,"p":0.96},{"c":"m1","v":41.01,"p":1.04},{"c":"m1","v":42.01,"p":1.34},{"c":"m1","v":43.01,"p":1.68},
  {"c":"m2","v":43.01,"p":1.44},{"c":"m2","v":44.01,"p":1.17},{"c":"m2","v":44.79,"p":0.92},{"c":"m2","v":45.18,"p":0.66},{"c":"m2","v":45.46,"p":0.28},{"c":"m2","v":45.51,"p":-0.06},{"c":"m2","v":45.18,"p":-0.40},{"c":"m2","v":44.46,"p":-0.70},{"c":"m2","v":44.01,"p":-0.87},{"c":"m2","v":43.01,"p":-1.10},{"c":"m2","v":42.01,"p":-1.33},{"c":"m2","v":41.01,"p":-1.52},{"c":"m2","v":40.01,"p":-1.29},{"c":"m2","v":39.01,"p":-1.01},{"c":"m2","v":38.34,"p":-0.70},{"c":"m2","v":37.90,"p":-0.40},{"c":"m2","v":37.77,"p":-0.14},{"c":"m2","v":38.01,"p":0.15},{"c":"m2","v":38.57,"p":0.43},{"c":"m2","v":39.01,"p":0.60},{"c":"m2","v":40.12,"p":0.79},{"c":"m2","v":41.01,"p":0.87},{"c":"m2","v":42.01,"p":1.11},{"c":"m2","v":43.01,"p":1.44},
  {"c":"m3","v":43.01,"p":1.21},{"c":"m3","v":44.01,"p":0.96},{"c":"m3","v":44.57,"p":0.75},{"c":"m3","v":44.96,"p":0.49},{"c":"m3","v":45.12,"p":0.20},{"c":"m3","v":45.12,"p":-0.14},{"c":"m3","v":44.79,"p":-0.44},{"c":"m3","v":44.01,"p":-0.70},{"c":"m3","v":43.01,"p":-0.93},{"c":"m3","v":42.01,"p":-1.16},{"c":"m3","v":41.01,"p":-1.33},{"c":"m3","v":40.01,"p":-1.12},{"c":"m3","v":39.01,"p":-0.87},{"c":"m3","v":38.57,"p":-0.57},{"c":"m3","v":38.23,"p":-0.31},{"c":"m3","v":38.23,"p":-0.06},{"c":"m3","v":38.51,"p":0.20},{"c":"m3","v":38.96,"p":0.41},{"c":"m3","v":40.12,"p":0.62},{"c":"m3","v":41.01,"p":0.73},{"c":"m3","v":42.01,"p":0.92},{"c":"m3","v":43.01,"p":1.21},
  {"c":"m4","v":43.01,"p":1.02},{"c":"m4","v":43.79,"p":0.83},{"c":"m4","v":44.34,"p":0.62},{"c":"m4","v":44.68,"p":0.37},{"c":"m4","v":44.79,"p":0.07},{"c":"m4","v":44.73,"p":-0.23},{"c":"m4","v":44.34,"p":-0.48},{"c":"m4","v":44.01,"p":-0.59},{"c":"m4","v":43.01,"p":-0.78},{"c":"m4","v":42.01,"p":-0.99},{"c":"m4","v":41.01,"p":-1.16},{"c":"m4","v":40.01,"p":-0.97},{"c":"m4","v":39.23,"p":-0.74},{"c":"m4","v":38.84,"p":-0.46},{"c":"m4","v":38.62,"p":-0.23},{"c":"m4","v":38.62,"p":-0.02},{"c":"m4","v":38.90,"p":0.20},{"c":"m4","v":39.34,"p":0.34},{"c":"m4","v":40.12,"p":0.47},{"c":"m4","v":41.01,"p":0.58},{"c":"m4","v":42.01,"p":0.77},{"c":"m4","v":43.01,"p":1.02},
  {"c":"m5","v":43.01,"p":0.87},{"c":"m5","v":43.68,"p":0.70},{"c":"m5","v":44.12,"p":0.49},{"c":"m5","v":44.40,"p":0.24},{"c":"m5","v":44.46,"p":-0.06},{"c":"m5","v":44.34,"p":-0.31},{"c":"m5","v":44.01,"p":-0.46},{"c":"m5","v":43.01,"p":-0.63},{"c":"m5","v":42.01,"p":-0.84},{"c":"m5","v":41.01,"p":-0.99},{"c":"m5","v":40.12,"p":-0.87},{"c":"m5","v":39.46,"p":-0.65},{"c":"m5","v":39.07,"p":-0.42},{"c":"m5","v":38.96,"p":-0.19},{"c":"m5","v":39.01,"p":0.03},{"c":"m5","v":39.34,"p":0.20},{"c":"m5","v":40.12,"p":0.32},{"c":"m5","v":41.01,"p":0.43},{"c":"m5","v":42.01,"p":0.62},{"c":"m5","v":43.01,"p":0.87},
  {"c":"m6","v":43.01,"p":0.73},{"c":"m6","v":43.57,"p":0.58},{"c":"m6","v":43.90,"p":0.37},{"c":"m6","v":44.12,"p":0.11},{"c":"m6","v":44.12,"p":-0.14},{"c":"m6","v":43.90,"p":-0.36},{"c":"m6","v":43.01,"p":-0.51},{"c":"m6","v":42.01,"p":-0.70},{"c":"m6","v":41.01,"p":-0.87},{"c":"m6","v":40.12,"p":-0.74},{"c":"m6","v":39.57,"p":-0.53},{"c":"m6","v":39.34,"p":-0.31},{"c":"m6","v":39.34,"p":-0.10},{"c":"m6","v":39.62,"p":0.09},{"c":"m6","v":40.12,"p":0.20},{"c":"m6","v":41.01,"p":0.28},{"c":"m6","v":42.01,"p":0.47},{"c":"m6","v":43.01,"p":0.73},
  {"c":"m7","v":43.01,"p":0.58},{"c":"m7","v":43.46,"p":0.45},{"c":"m7","v":43.73,"p":0.24},{"c":"m7","v":43.84,"p":-0.02},{"c":"m7","v":43.73,"p":-0.25},{"c":"m7","v":43.01,"p":-0.38},{"c":"m7","v":42.01,"p":-0.55},{"c":"m7","v":41.01,"p":-0.70},{"c":"m7","v":40.23,"p":-0.59},{"c":"m7","v":39.79,"p":-0.42},{"c":"m7","v":39.68,"p":-0.19},{"c":"m7","v":39.90,"p":-0.02},{"c":"m7","v":40.29,"p":0.09},{"c":"m7","v":41.01,"p":0.13},{"c":"m7","v":42.01,"p":0.32},{"c":"m7","v":43.01,"p":0.58},
  {"c":"m8","v":43.01,"p":0.44},{"c":"m8","v":43.34,"p":0.32},{"c":"m8","v":43.51,"p":0.13},{"c":"m8","v":43.51,"p":-0.12},{"c":"m8","v":43.01,"p":-0.26},{"c":"m8","v":42.01,"p":-0.40},{"c":"m8","v":41.01,"p":-0.51},{"c":"m8","v":40.40,"p":-0.42},{"c":"m8","v":40.07,"p":-0.25},{"c":"m8","v":40.03,"p":-0.10},{"c":"m8","v":40.29,"p":0.00},{"c":"m8","v":41.01,"p":0.07},{"c":"m8","v":42.01,"p":0.20},{"c":"m8","v":43.01,"p":0.44},
  {"c":"m9","v":41.18,"p":-0.21},{"c":"m9","v":41.73,"p":-0.02},{"c":"m9","v":42.01,"p":0.03},{"c":"m9","v":43.01,"p":0.23},{"c":"m9","v":43.12,"p":0.00},{"c":"m9","v":43.01,"p":-0.14},{"c":"m9","v":42.01,"p":-0.23},{"c":"m9","v":41.18,"p":-0.21}
 ]
},
"concat":[
  {"width":571,"height":565,
   "layer":[
    {"data":{"name":"rAB"},"mark":{"type":"rule","strokeDash":[6,3],"strokeWidth":1.2},
     "encoding":{"x":{"field":"v","type":"quantitative","scale":{"domain":[27,56],"nice":false,"zero":false},
       "axis":{"orient":"bottom","values":[28,29,30,31,32,33,34,35,36,37,38,39,40,41,42,43,44,45,46,47,48,49,50,51,52,53,54,55],"labelExpr":"datum.value % 5 === 0 ? datum.label : ''","tickSize":{"condition":{"test":"datum.value % 5 === 0","value":-9},"value":-5},"labelPadding":16,"title":null}},
      "color":{"field":"k","type":"nominal","scale":{"domain":["b","k","r","r2"],"range":["#0000ff","#000000","#e00000","#ff2a2a"]},"legend":null}}},
    {"data":{"name":"cA"},"mark":{"type":"line","color":"#000","strokeWidth":1.4,"clip":true},
     "encoding":{"x":{"field":"v","type":"quantitative","scale":{"domain":[27,56],"nice":false,"zero":false},
       "axis":{"orient":"top","values":[28,29,30,31,32,33,34,35,36,37,38,39,40,41,42,43,44,45,46,47,48,49,50,51,52,53,54,55],"labels":false,"tickSize":{"condition":{"test":"datum.value % 5 === 0","value":-9},"value":-5},"title":null}},
      "y":{"field":"p","type":"quantitative","scale":{"domain":[-4.23,4.23],"nice":false,"zero":false},
       "axis":{"orient":"left","values":[-4,-3,-2,-1,0,1,2,3,4],"labelExpr":"datum.value % 2 === 0 ? datum.label : ''","tickSize":{"condition":{"test":"datum.value % 2 === 0","value":-9},"value":-5},"labelPadding":21,"labelAngle":270,"labelAlign":"center","labelBaseline":"alphabetic","title":"position (arcsec)","titlePadding":6}},
      "detail":{"field":"c"},"order":{"value":null}}},
    {"data":{"name":"tA"},"transform":[{"filter":"datum.g === 'lab'"}],"mark":{"type":"text","font":"Liberation Sans","fontWeight":"bold","fontSize":22,"color":"#555555","align":"left","baseline":"alphabetic"},
     "encoding":{"x":{"field":"v","type":"quantitative","scale":{"domain":[27,56],"nice":false,"zero":false},"axis":null},
      "y":{"field":"p","type":"quantitative","scale":{"domain":[-4.23,4.23],"nice":false,"zero":false},
       "axis":{"orient":"right","values":[-4,-3,-2,-1,0,1,2,3,4],"labels":false,"tickSize":{"condition":{"test":"datum.value % 2 === 0","value":-9},"value":-5},"title":null}},
      "text":{"field":"t"}}},
    {"data":{"name":"tA"},"transform":[{"filter":"datum.g === 'ser'"}],"mark":{"type":"text","font":"Liberation Serif","fontSize":21,"color":"#000","align":"left","baseline":"alphabetic"},
     "encoding":{"x":{"field":"v","type":"quantitative","scale":{"domain":[27,56],"nice":false,"zero":false},
       "axis":{"orient":"bottom","offset":565,"values":[28,29,30,31,32,33,34,35,36,37,38,39,40,41,42,43,44,45,46,47,48,49,50,51,52,53,54,55],"labelExpr":"datum.value % 5 === 0 ? datum.label : ''","tickSize":{"condition":{"test":"datum.value % 5 === 0","value":-9},"value":-5},"labelPadding":16,"title":"velocity (km/s)","titlePadding":17,"titleFontSize":17}},
      "y":{"field":"p","type":"quantitative","scale":{"domain":[-4.23,4.23],"nice":false,"zero":false},"axis":null},"text":{"field":"t"}}},
    {"data":{"name":"tA"},"transform":[{"filter":"datum.g === 'big'"}],"mark":{"type":"text","font":"Liberation Sans","fontWeight":"bold","fontSize":42,"color":"#555555","align":"center","baseline":"alphabetic"},
     "encoding":{"x":{"field":"v","type":"quantitative","scale":{"domain":[27,56],"nice":false,"zero":false},"axis":null},
      "y":{"field":"p","type":"quantitative","scale":{"domain":[-4.23,4.23],"nice":false,"zero":false},"axis":null},"text":{"field":"t"}}}
   ]},
  {"width":572,"height":565,
   "layer":[
    {"data":{"name":"rCD"},"mark":{"type":"rule","strokeDash":[6,3],"strokeWidth":1.2},
     "encoding":{"x":{"field":"v","type":"quantitative","scale":{"domain":[32,51.07],"nice":false,"zero":false},
       "axis":{"orient":"bottom","values":[33,34,35,36,37,38,39,40,41,42,43,44,45,46,47,48,49,50],"labelExpr":"datum.value % 5 === 0 ? datum.label : ''","tickSize":{"condition":{"test":"datum.value % 5 === 0","value":-9},"value":-5},"labelPadding":16,"title":null}},
      "color":{"field":"k","type":"nominal","scale":{"domain":["k"],"range":["#000000"]},"legend":null}}},
    {"data":{"name":"cC"},"mark":{"type":"line","color":"#000","strokeWidth":1.4,"clip":true},
     "encoding":{"x":{"field":"v","type":"quantitative","scale":{"domain":[32,51.07],"nice":false,"zero":false},
       "axis":{"orient":"top","values":[33,34,35,36,37,38,39,40,41,42,43,44,45,46,47,48,49,50],"labels":false,"tickSize":{"condition":{"test":"datum.value % 5 === 0","value":-9},"value":-5},"title":null}},
      "y":{"field":"p","type":"quantitative","scale":{"domain":[-3.6,3.6],"nice":false,"zero":false},
       "axis":{"orient":"left","values":[-3,-2,-1,0,1,2,3],"labelExpr":"datum.value % 2 === 0 ? datum.label : ''","tickSize":{"condition":{"test":"datum.value % 2 === 0","value":-9},"value":-5},"labelPadding":21,"labelAngle":270,"labelAlign":"center","labelBaseline":"alphabetic","title":null}},
      "detail":{"field":"c"},"order":{"value":null}}},
    {"data":{"name":"tC"},"transform":[{"filter":"datum.g === 'lab'"}],"mark":{"type":"text","font":"Liberation Sans","fontWeight":"bold","fontSize":22,"color":"#555555","align":"left","baseline":"alphabetic"},
     "encoding":{"x":{"field":"v","type":"quantitative","scale":{"domain":[32,51.07],"nice":false,"zero":false},"axis":null},
      "y":{"field":"p","type":"quantitative","scale":{"domain":[-3.6,3.6],"nice":false,"zero":false},
       "axis":{"orient":"right","values":[-3,-2,-1,0,1,2,3],"labels":false,"tickSize":{"condition":{"test":"datum.value % 2 === 0","value":-9},"value":-5},"title":null}},
      "text":{"field":"t"}}},
    {"data":{"name":"tC"},"transform":[{"filter":"datum.g === 'ser'"}],"mark":{"type":"text","font":"Liberation Serif","fontSize":22,"color":"#000","align":"left","baseline":"alphabetic"},
     "encoding":{"x":{"field":"v","type":"quantitative","scale":{"domain":[32,51.07],"nice":false,"zero":false},
       "axis":{"orient":"bottom","offset":565,"values":[33,34,35,36,37,38,39,40,41,42,43,44,45,46,47,48,49,50],"labelExpr":"datum.value % 5 === 0 ? datum.label : ''","tickSize":{"condition":{"test":"datum.value % 5 === 0","value":-9},"value":-5},"labelPadding":16,"title":"velocity (km/s)","titlePadding":17,"titleFontSize":17}},
      "y":{"field":"p","type":"quantitative","scale":{"domain":[-3.6,3.6],"nice":false,"zero":false},"axis":null},"text":{"field":"t"}}},
    {"data":{"name":"tC"},"transform":[{"filter":"datum.g === 'sup'"}],"mark":{"type":"text","font":"Liberation Serif","fontWeight":"bold","fontSize":15,"color":"#000","align":"left","baseline":"alphabetic"},
     "encoding":{"x":{"field":"v","type":"quantitative","scale":{"domain":[32,51.07],"nice":false,"zero":false},"axis":null},
      "y":{"field":"p","type":"quantitative","scale":{"domain":[-3.6,3.6],"nice":false,"zero":false},"axis":null},"text":{"field":"t"}}}
   ]},
  {"width":571,"height":565,
   "layer":[
    {"data":{"name":"rAB"},"mark":{"type":"rule","strokeDash":[6,3],"strokeWidth":1.2},
     "encoding":{"x":{"field":"v","type":"quantitative","scale":{"domain":[27,56],"nice":false,"zero":false},"axis":null},
      "color":{"field":"k","type":"nominal","scale":{"domain":["b","k","r","r2"],"range":["#0000ff","#000000","#e00000","#ff2a2a"]},"legend":null}}},
    {"data":{"name":"cB"},"mark":{"type":"line","color":"#000","strokeWidth":1.4,"clip":true},
     "encoding":{"x":{"field":"v","type":"quantitative","scale":{"domain":[27,56],"nice":false,"zero":false},"axis":null},
      "y":{"field":"p","type":"quantitative","scale":{"domain":[-4.23,4.23],"nice":false,"zero":false},
       "axis":{"orient":"left","values":[-4,-3,-2,-1,0,1,2,3,4],"labelExpr":"datum.value % 2 === 0 ? datum.label : ''","tickSize":{"condition":{"test":"datum.value % 2 === 0","value":-9},"value":-5},"labelPadding":21,"labelAngle":270,"labelAlign":"center","labelBaseline":"alphabetic","title":"position (arcsec)","titlePadding":6}},
      "detail":{"field":"c"},"order":{"value":null}}},
    {"data":{"name":"tB"},"transform":[{"filter":"datum.g === 'lab'"}],"mark":{"type":"text","font":"Liberation Sans","fontWeight":"bold","fontSize":22,"color":"#555555","align":"left","baseline":"alphabetic"},
     "encoding":{"x":{"field":"v","type":"quantitative","scale":{"domain":[27,56],"nice":false,"zero":false},"axis":null},
      "y":{"field":"p","type":"quantitative","scale":{"domain":[-4.23,4.23],"nice":false,"zero":false},
       "axis":{"orient":"right","values":[-4,-3,-2,-1,0,1,2,3,4],"labels":false,"tickSize":{"condition":{"test":"datum.value % 2 === 0","value":-9},"value":-5},"title":null}},
      "text":{"field":"t"}}},
    {"data":{"name":"tB"},"transform":[{"filter":"datum.g === 'ser'"}],"mark":{"type":"text","font":"Liberation Serif","fontSize":21,"color":"#000","align":"left","baseline":"alphabetic"},
     "encoding":{"x":{"field":"v","type":"quantitative","scale":{"domain":[27,56],"nice":false,"zero":false},"axis":null},
      "y":{"field":"p","type":"quantitative","scale":{"domain":[-4.23,4.23],"nice":false,"zero":false},"axis":null},"text":{"field":"t"}}},
    {"data":{"name":"tB"},"transform":[{"filter":"datum.g === 'big'"}],"mark":{"type":"text","font":"Liberation Sans","fontWeight":"bold","fontSize":42,"color":"#555555","align":"center","baseline":"alphabetic"},
     "encoding":{"x":{"field":"v","type":"quantitative","scale":{"domain":[27,56],"nice":false,"zero":false},"axis":null},
      "y":{"field":"p","type":"quantitative","scale":{"domain":[-4.23,4.23],"nice":false,"zero":false},"axis":null},"text":{"field":"t"}}}
   ]},
  {"width":572,"height":565,
   "layer":[
    {"data":{"name":"rCD"},"mark":{"type":"rule","strokeDash":[6,3],"strokeWidth":1.2},
     "encoding":{"x":{"field":"v","type":"quantitative","scale":{"domain":[32,51.07],"nice":false,"zero":false},"axis":null},
      "color":{"field":"k","type":"nominal","scale":{"domain":["k"],"range":["#000000"]},"legend":null}}},
    {"data":{"name":"cD"},"mark":{"type":"line","color":"#000","strokeWidth":1.4,"clip":true},
     "encoding":{"x":{"field":"v","type":"quantitative","scale":{"domain":[32,51.07],"nice":false,"zero":false},"axis":null},
      "y":{"field":"p","type":"quantitative","scale":{"domain":[-3.6,3.6],"nice":false,"zero":false},
       "axis":{"orient":"left","values":[-3,-2,-1,0,1,2,3],"labelExpr":"datum.value % 2 === 0 ? datum.label : ''","tickSize":{"condition":{"test":"datum.value % 2 === 0","value":-9},"value":-5},"labelPadding":21,"labelAngle":270,"labelAlign":"center","labelBaseline":"alphabetic","title":null}},
      "detail":{"field":"c"},"order":{"value":null}}},
    {"data":{"name":"tD"},"transform":[{"filter":"datum.g === 'lab'"}],"mark":{"type":"text","font":"Liberation Sans","fontWeight":"bold","fontSize":22,"color":"#555555","align":"left","baseline":"alphabetic"},
     "encoding":{"x":{"field":"v","type":"quantitative","scale":{"domain":[32,51.07],"nice":false,"zero":false},"axis":null},
      "y":{"field":"p","type":"quantitative","scale":{"domain":[-3.6,3.6],"nice":false,"zero":false},
       "axis":{"orient":"right","values":[-3,-2,-1,0,1,2,3],"labels":false,"tickSize":{"condition":{"test":"datum.value % 2 === 0","value":-9},"value":-5},"title":null}},
      "text":{"field":"t"}}},
    {"data":{"name":"tD"},"transform":[{"filter":"datum.g === 'ser'"}],"mark":{"type":"text","font":"Liberation Serif","fontSize":22,"color":"#000","align":"left","baseline":"alphabetic"},
     "encoding":{"x":{"field":"v","type":"quantitative","scale":{"domain":[32,51.07],"nice":false,"zero":false},"axis":null},
      "y":{"field":"p","type":"quantitative","scale":{"domain":[-3.6,3.6],"nice":false,"zero":false},"axis":null},"text":{"field":"t"}}},
    {"data":{"name":"tD"},"transform":[{"filter":"datum.g === 'sup'"}],"mark":{"type":"text","font":"Liberation Serif","fontWeight":"bold","fontSize":15,"color":"#000","align":"left","baseline":"alphabetic"},
     "encoding":{"x":{"field":"v","type":"quantitative","scale":{"domain":[32,51.07],"nice":false,"zero":false},"axis":null},
      "y":{"field":"p","type":"quantitative","scale":{"domain":[-3.6,3.6],"nice":false,"zero":false},"axis":null},"text":{"field":"t"}}}
   ]}
],
"columns":2,
"spacing":{"row":0,"column":50},
"bounds":"flush"
}
